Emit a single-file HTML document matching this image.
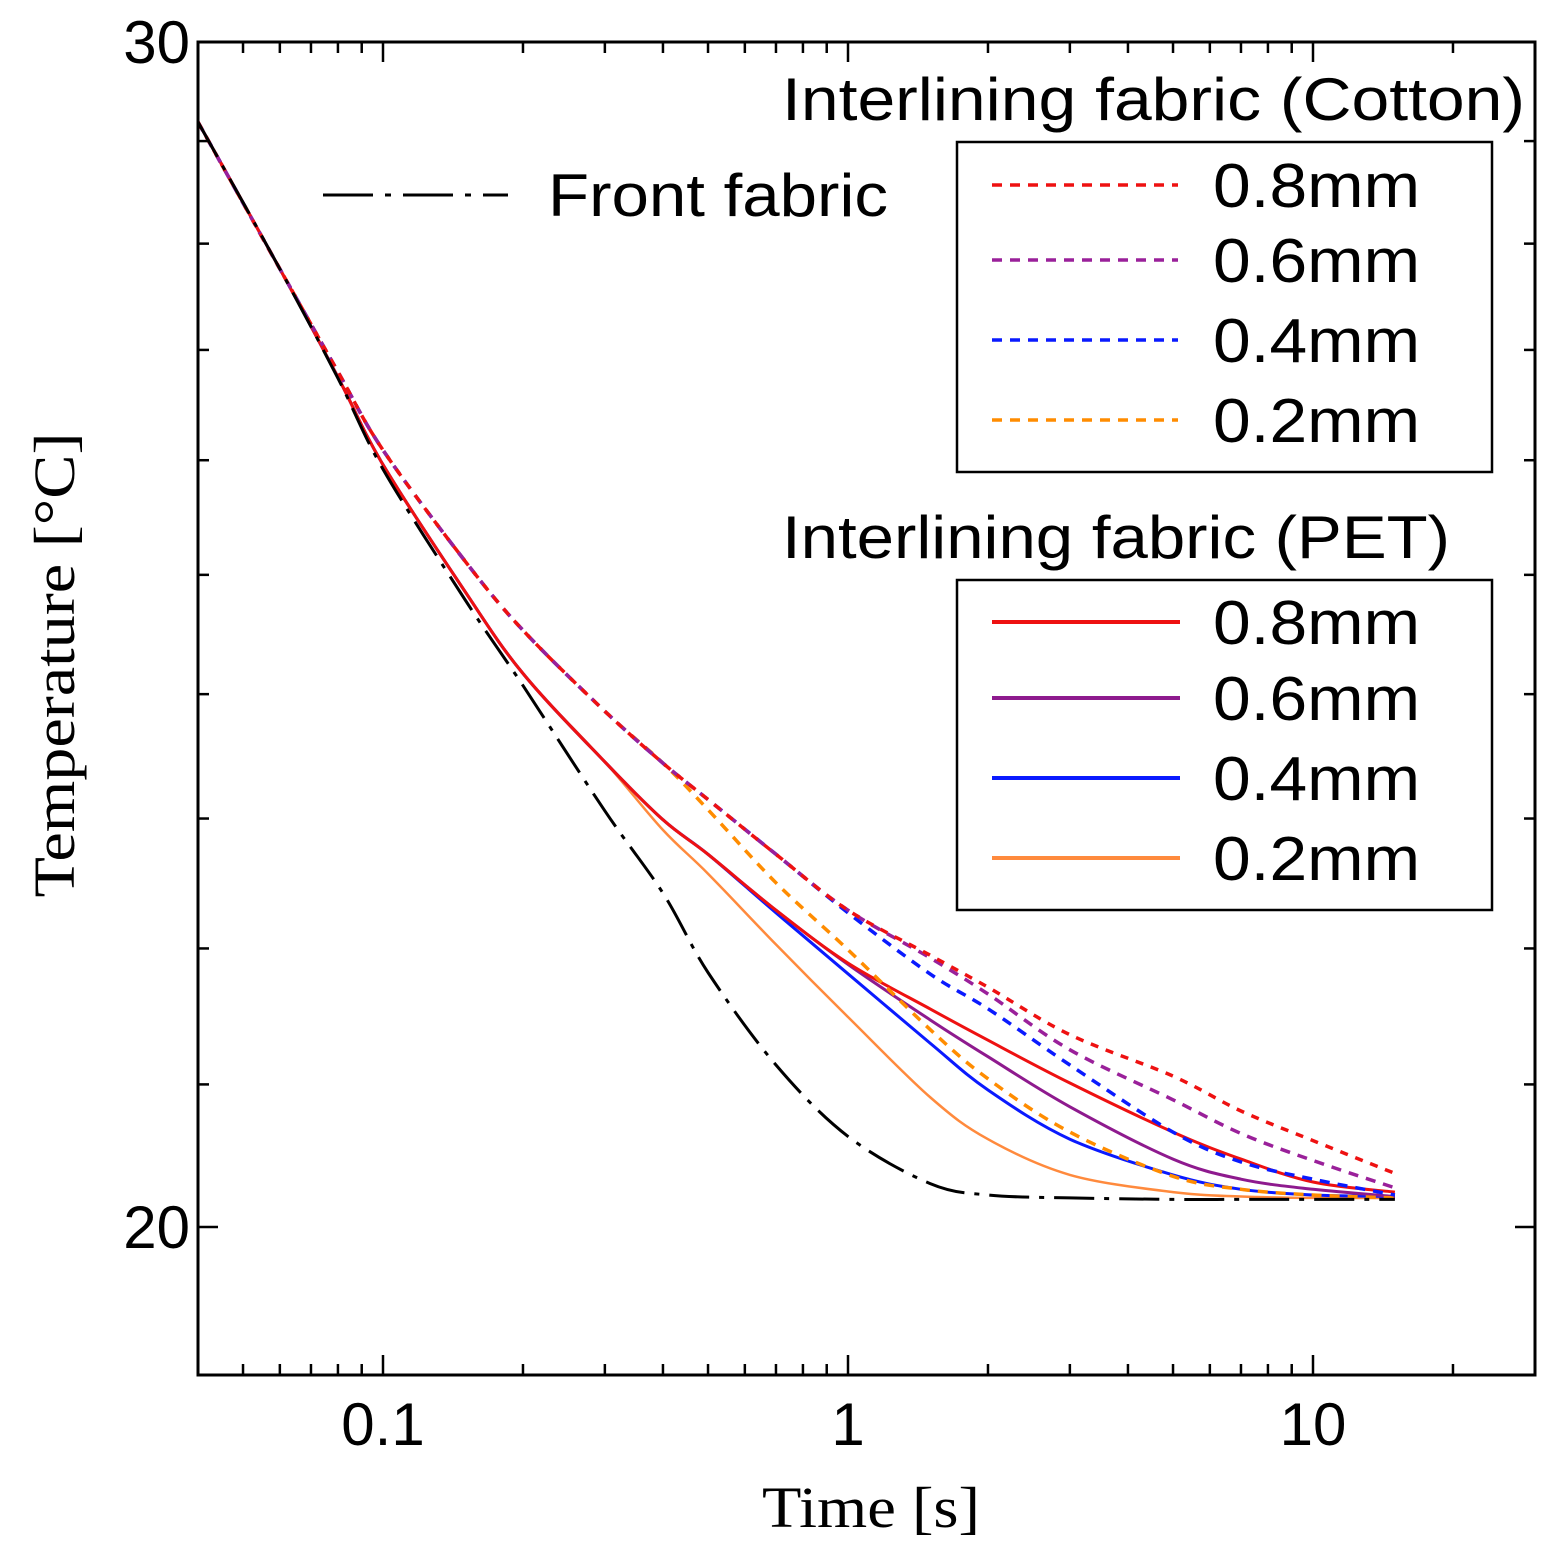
<!DOCTYPE html>
<html><head><meta charset="utf-8">
<style>
html,body{margin:0;padding:0;background:#fff;}
svg{display:block;}
.sans{font-family:"Liberation Sans",sans-serif;}
.serif{font-family:"Liberation Serif",serif;}
</style></head>
<body>
<svg id="chart" width="1567" height="1557" viewBox="0 0 1567 1557" xmlns="http://www.w3.org/2000/svg">
<g id="marks"></g>
<g id="axes"></g>
<rect x="198" y="42" width="1337" height="1333" fill="none" stroke="#000" stroke-width="3"/>
<text class="serif" x="0" y="0" font-size="58" text-anchor="middle" textLength="465" lengthAdjust="spacingAndGlyphs" transform="translate(74,665) rotate(-90)">Temperature [°C]</text>
<text class="serif" x="871" y="1527" font-size="58" text-anchor="middle" textLength="218" lengthAdjust="spacingAndGlyphs">Time [s]</text>
<g>
<line x1="323" y1="195" x2="508" y2="195" stroke="#000" stroke-width="3" stroke-dasharray="50,12,6,12"/>
<text class="sans" x="548" y="216" font-size="60" textLength="340" lengthAdjust="spacingAndGlyphs">Front fabric</text>
</g>
<text class="sans" x="782" y="120" font-size="60" textLength="743" lengthAdjust="spacingAndGlyphs">Interlining fabric (Cotton)</text>
<rect x="957" y="142" width="535" height="330" fill="#fff" stroke="#000" stroke-width="2.5"/>
<text class="sans" x="782" y="558" font-size="60" textLength="668" lengthAdjust="spacingAndGlyphs">Interlining fabric (PET)</text>
<rect x="957" y="580" width="535" height="330" fill="#fff" stroke="#000" stroke-width="2.5"/>
<g id="legends"></g>
</svg>
<script>
const times = [0.04,0.06,0.08,0.1,0.15,0.2,0.3,0.4,0.5,0.7,1,1.5,2,3,5,7,10,15];
const frontFabric = [29.19,27.76,26.74,25.92,24.79,24.07,23.06,22.42,21.82,21.14,20.63,20.30,20.22,20.20,20.19,20.19,20.19,20.19];
const cotton08 = [29.19,27.76,26.80,26.09,25.12,24.53,23.86,23.44,23.15,22.72,22.29,21.95,21.71,21.36,21.06,20.81,20.60,20.37];
const cotton06 = [29.19,27.76,26.80,26.09,25.12,24.53,23.86,23.44,23.15,22.72,22.29,21.93,21.66,21.25,20.89,20.65,20.46,20.27];
const cotton04 = [29.19,27.76,26.80,26.09,25.12,24.53,23.86,23.44,23.15,22.72,22.27,21.81,21.55,21.14,20.66,20.45,20.33,20.22];
const cotton02 = [29.19,27.76,26.80,26.09,25.12,24.53,23.86,23.44,23.07,22.50,21.99,21.40,21.04,20.66,20.35,20.26,20.22,20.20];
const pet08 = [29.19,27.76,26.75,25.96,24.86,24.17,23.45,22.99,22.72,22.29,21.89,21.55,21.32,21.01,20.66,20.47,20.31,20.24];
const pet06 = [29.19,27.76,26.75,25.96,24.86,24.17,23.45,22.99,22.72,22.29,21.88,21.47,21.20,20.84,20.47,20.33,20.26,20.21];
const pet04 = [29.19,27.76,26.75,25.96,24.86,24.17,23.45,22.99,22.72,22.27,21.81,21.30,20.96,20.61,20.36,20.26,20.22,20.21];
const pet02 = [29.19,27.76,26.75,25.96,24.86,24.17,23.45,22.91,22.57,22.03,21.49,20.91,20.61,20.36,20.24,20.21,20.20,20.20];
const xTickLabels = ["0.1","1","10"];
const yTickLabels = ["30","20"];
const legendLabels = ["0.8mm","0.6mm","0.4mm","0.2mm"];

const NS="http://www.w3.org/2000/svg";
const L=198,R=1535,T=42,B=1375;
function xs(t){return 383+465*Math.log10(t/0.1);}
function ys(v){return 42+(Math.log10(30)-Math.log10(v))/(Math.log10(30)-Math.log10(20))*1185;}
function mk(tag,attrs,parent){const e=document.createElementNS(NS,tag);for(const k in attrs)e.setAttribute(k,attrs[k]);parent.appendChild(e);return e;}
function pathD(xv,yv){
  const p=xv.map((t,i)=>[xs(t),ys(yv[i])]);
  let d="M"+p[0][0].toFixed(1)+","+p[0][1].toFixed(1);
  for(let i=0;i<p.length-1;i++){
    const p0=p[Math.max(0,i-1)],p1=p[i],p2=p[i+1],p3=p[Math.min(p.length-1,i+2)];
    const c1=[p1[0]+(p2[0]-p0[0])/6,p1[1]+(p2[1]-p0[1])/6];
    const c2=[p2[0]-(p3[0]-p1[0])/6,p2[1]-(p3[1]-p1[1])/6];
    d+=" C"+c1.map(v=>v.toFixed(1))+" "+c2.map(v=>v.toFixed(1))+" "+p2.map(v=>v.toFixed(1));
  }
  return d;
}
const marks=document.getElementById('marks');
const series=[
 ["pet-02mm-line",pet02,"#ff8a3d","none",2.5],
 ["pet-04mm-line",pet04,"#0a1aff","none",3],
 ["pet-06mm-line",pet06,"#8e1a8e","none",3],
 ["pet-08mm-line",pet08,"#ee1111","none",3],
 ["cotton-02mm-line",cotton02,"#ff8c00","10,8",3.5],
 ["cotton-04mm-line",cotton04,"#0a1aff","10,8",3.5],
 ["cotton-06mm-line",cotton06,"#9a209a","10,8",3.5],
 ["cotton-08mm-line",cotton08,"#ee1111","8,8",3.5],
 ["front-fabric-line",frontFabric,"#000","40,10,5,10",3]
];
series.forEach(s=>{
  const e=mk('path',{d:pathD(times,s[1]),fill:"none",stroke:s[2],"stroke-width":s[4],"stroke-dasharray":s[3]},marks);
  
  
});
const axes=document.getElementById('axes');
for(let dec=-2;dec<=1;dec++){
  for(let m=1;m<10;m++){
    const t=m*Math.pow(10,dec);
    if(t<0.04||t>30)continue;
    const x=xs(t);const len=(m===1)?20:11;
    const a=mk('line',{x1:x,y1:B,x2:x,y2:B-len,stroke:"#000","stroke-width":2.5},axes);
    
    
    const b=mk('line',{x1:x,y1:T,x2:x,y2:T+len,stroke:"#000","stroke-width":2.5},axes);
    
    
  }
}
[0.1,1,10].forEach((t,i)=>{
  const e=mk('text',{x:xs(t),y:1445,"font-size":60,"text-anchor":"middle","class":"sans"},axes);
  e.textContent=xTickLabels[i];
  
  
});
for(let v=19;v<=30;v++){
  const y=ys(v);if(y>B)continue;
  const len=(v===20||v===30)?20:11;
  const a=mk('line',{x1:L,y1:y,x2:L+len,y2:y,stroke:"#000","stroke-width":2.5},axes);
  
  
  const b=mk('line',{x1:R,y1:y,x2:R-len,y2:y,stroke:"#000","stroke-width":2.5},axes);
  
  
}
[30,20].forEach((v,i)=>{
  const e=mk('text',{x:190,y:ys(v)+21,"font-size":60,"text-anchor":"end","class":"sans"},axes);
  e.textContent=yTickLabels[i];
  
  
});
const lg=document.getElementById('legends');
const cCols=["#ee1111","#9a209a","#0a1aff","#ff8c00"];
const pCols=["#ee1111","#8e1a8e","#0a1aff","#ff8a3d"];
const cY=[185,260,340,420],pY=[622,698,778,858];
legendLabels.forEach((lab,i)=>{
  const a=mk('line',{x1:992,y1:cY[i],x2:1178,y2:cY[i],stroke:cCols[i],"stroke-width":3.5,"stroke-dasharray":"10,8"},lg);
  
  
  const t=mk('text',{x:1213,y:cY[i]+22,"font-size":62,"class":"sans",textLength:207,lengthAdjust:"spacingAndGlyphs"},lg);t.textContent=lab;
  
  
  const b=mk('line',{x1:992,y1:pY[i],x2:1180,y2:pY[i],stroke:pCols[i],"stroke-width":4},lg);
  
  
  const u=mk('text',{x:1213,y:pY[i]+22,"font-size":62,"class":"sans",textLength:207,lengthAdjust:"spacingAndGlyphs"},lg);u.textContent=lab;
  
  
});
</script>
</body></html>
